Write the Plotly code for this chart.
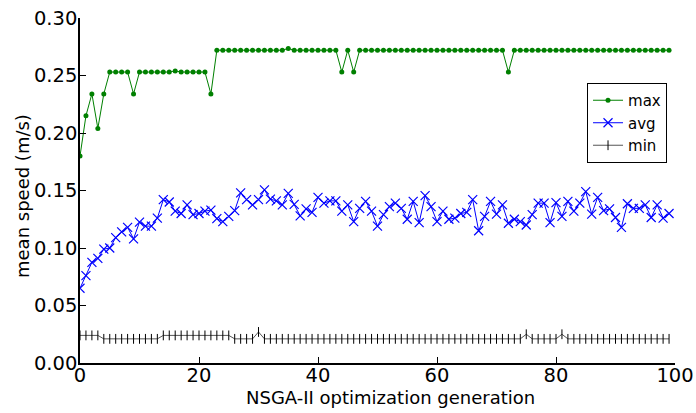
import plotly.graph_objects as go

generations = list(range(100))

max_speed = [0.180, 0.215, 0.234, 0.204, 0.234, 0.253, 0.253, 0.253, 0.253, 0.234,
             0.253, 0.253, 0.253, 0.253, 0.253, 0.253, 0.254, 0.253, 0.253, 0.253,
             0.253, 0.253, 0.234, 0.272, 0.272, 0.272, 0.272, 0.272, 0.272, 0.272,
             0.272, 0.272, 0.272, 0.272, 0.272, 0.2735, 0.272, 0.272, 0.272, 0.272,
             0.272, 0.272, 0.272, 0.272, 0.253, 0.272, 0.253, 0.272, 0.272, 0.272,
             0.272, 0.272, 0.272, 0.272, 0.272, 0.272, 0.272, 0.272, 0.272, 0.272,
             0.272, 0.272, 0.272, 0.272, 0.272, 0.272, 0.272, 0.272, 0.272, 0.272,
             0.272, 0.272, 0.253, 0.272, 0.272, 0.272, 0.272, 0.272, 0.272, 0.272,
             0.272, 0.272, 0.272, 0.272, 0.272, 0.272, 0.272, 0.272, 0.272, 0.272,
             0.272, 0.272, 0.272, 0.272, 0.272, 0.272, 0.272, 0.272, 0.272, 0.272]

avg_speed = [0.065, 0.076, 0.0875, 0.091, 0.099, 0.100, 0.109, 0.114, 0.118, 0.108,
             0.1225, 0.119, 0.119, 0.126, 0.142, 0.140, 0.132, 0.130, 0.1375, 0.129,
             0.130, 0.132, 0.133, 0.1255, 0.123, 0.1275, 0.1325, 0.148, 0.142, 0.1375,
             0.142, 0.1505, 0.1425, 0.141, 0.1375, 0.1475, 0.138, 0.128, 0.134, 0.131,
             0.144, 0.139, 0.141, 0.141, 0.132, 0.1375, 0.123, 0.1345, 0.1405, 0.132,
             0.119, 0.129, 0.136, 0.139, 0.1345, 0.125, 0.1405, 0.122, 0.1455, 0.136,
             0.123, 0.132, 0.125, 0.126, 0.130, 0.131, 0.142, 0.115, 0.1275, 0.1405,
             0.1295, 0.1375, 0.1215, 0.125, 0.123, 0.120, 0.129, 0.139, 0.139, 0.122,
             0.1395, 0.1275, 0.1405, 0.132, 0.139, 0.149, 0.1295, 0.144, 0.1325, 0.134,
             0.1265, 0.118, 0.1385, 0.1345, 0.1345, 0.1375, 0.1265, 0.1375, 0.126, 0.130]

min_speed = ([0.024] * 4 + [0.021] * 10 + [0.024] * 12 + [0.021] * 4 + [0.027]
             + [0.021] * 44 + [0.025] + [0.021] * 5 + [0.025] + [0.021] * 18)

x_title = "NSGA-II optimization generation"
y_title = "mean speed (m/s)"

FONT = "DejaVu Sans"

fig = go.Figure()
fig.add_trace(go.Scatter(
    x=generations, y=max_speed, name="max", mode="lines+markers",
    line=dict(color="#008000", width=1),
    marker=dict(symbol="circle", size=5, color="#008000"),
))
fig.add_trace(go.Scatter(
    x=generations, y=avg_speed, name="avg", mode="lines+markers",
    line=dict(color="#0000ff", width=1),
    marker=dict(symbol="x-thin", size=9, color="#0000ff",
                line=dict(color="#0000ff", width=1.2)),
))
fig.add_trace(go.Scatter(
    x=generations, y=min_speed, name="min", mode="lines+markers",
    line=dict(color="#555555", width=1),
    marker=dict(symbol="line-ns", size=7, color="#000000",
                line=dict(color="#000000", width=1)),
))

fig.update_layout(
    width=696, height=413,
    margin=dict(l=80, r=21, t=18, b=50, autoexpand=False),
    paper_bgcolor="white", plot_bgcolor="white",
    font=dict(family=FONT, size=19, color="black"),
    showlegend=True,
    legend=dict(
        x=0.9866, y=0.8116, xanchor="right", yanchor="top",
        bgcolor="white", bordercolor="black", borderwidth=1,
        font=dict(family=FONT, size=15, color="black"),
        tracegroupgap=0, itemwidth=30,
    ),
    xaxis=dict(
        range=[0, 100], dtick=20, tick0=0,
        showgrid=False, zeroline=False, automargin=False,
        showline=True, linecolor="black", linewidth=1.5,
        ticks="inside", ticklen=6, tickcolor="black",
        ticklabelstandoff=-6,
        tickfont=dict(family=FONT, size=19.5),
    ),
    yaxis=dict(
        range=[0, 0.30], dtick=0.05, tick0=0, tickformat=".2f",
        showgrid=False, zeroline=False, automargin=False,
        showline=True, linecolor="black", linewidth=1.5,
        ticks="inside", ticklen=6, tickcolor="black",
        ticklabelstandoff=-3,
        tickfont=dict(family=FONT, size=19.5),
    ),
    annotations=[
        dict(text=x_title, xref="paper", yref="paper",
             x=(390 - 80) / 595, y=(363 - 397) / 345,
             xanchor="center", yanchor="middle", showarrow=False,
             font=dict(family=FONT, size=18, color="black")),
        dict(text=y_title, xref="paper", yref="paper",
             x=(22 - 80) / 595, y=(363 - 196) / 345, textangle=-90,
             xanchor="center", yanchor="middle", showarrow=False,
             font=dict(family=FONT, size=18, color="black")),
    ],
)

fig.write_html("out.html")
